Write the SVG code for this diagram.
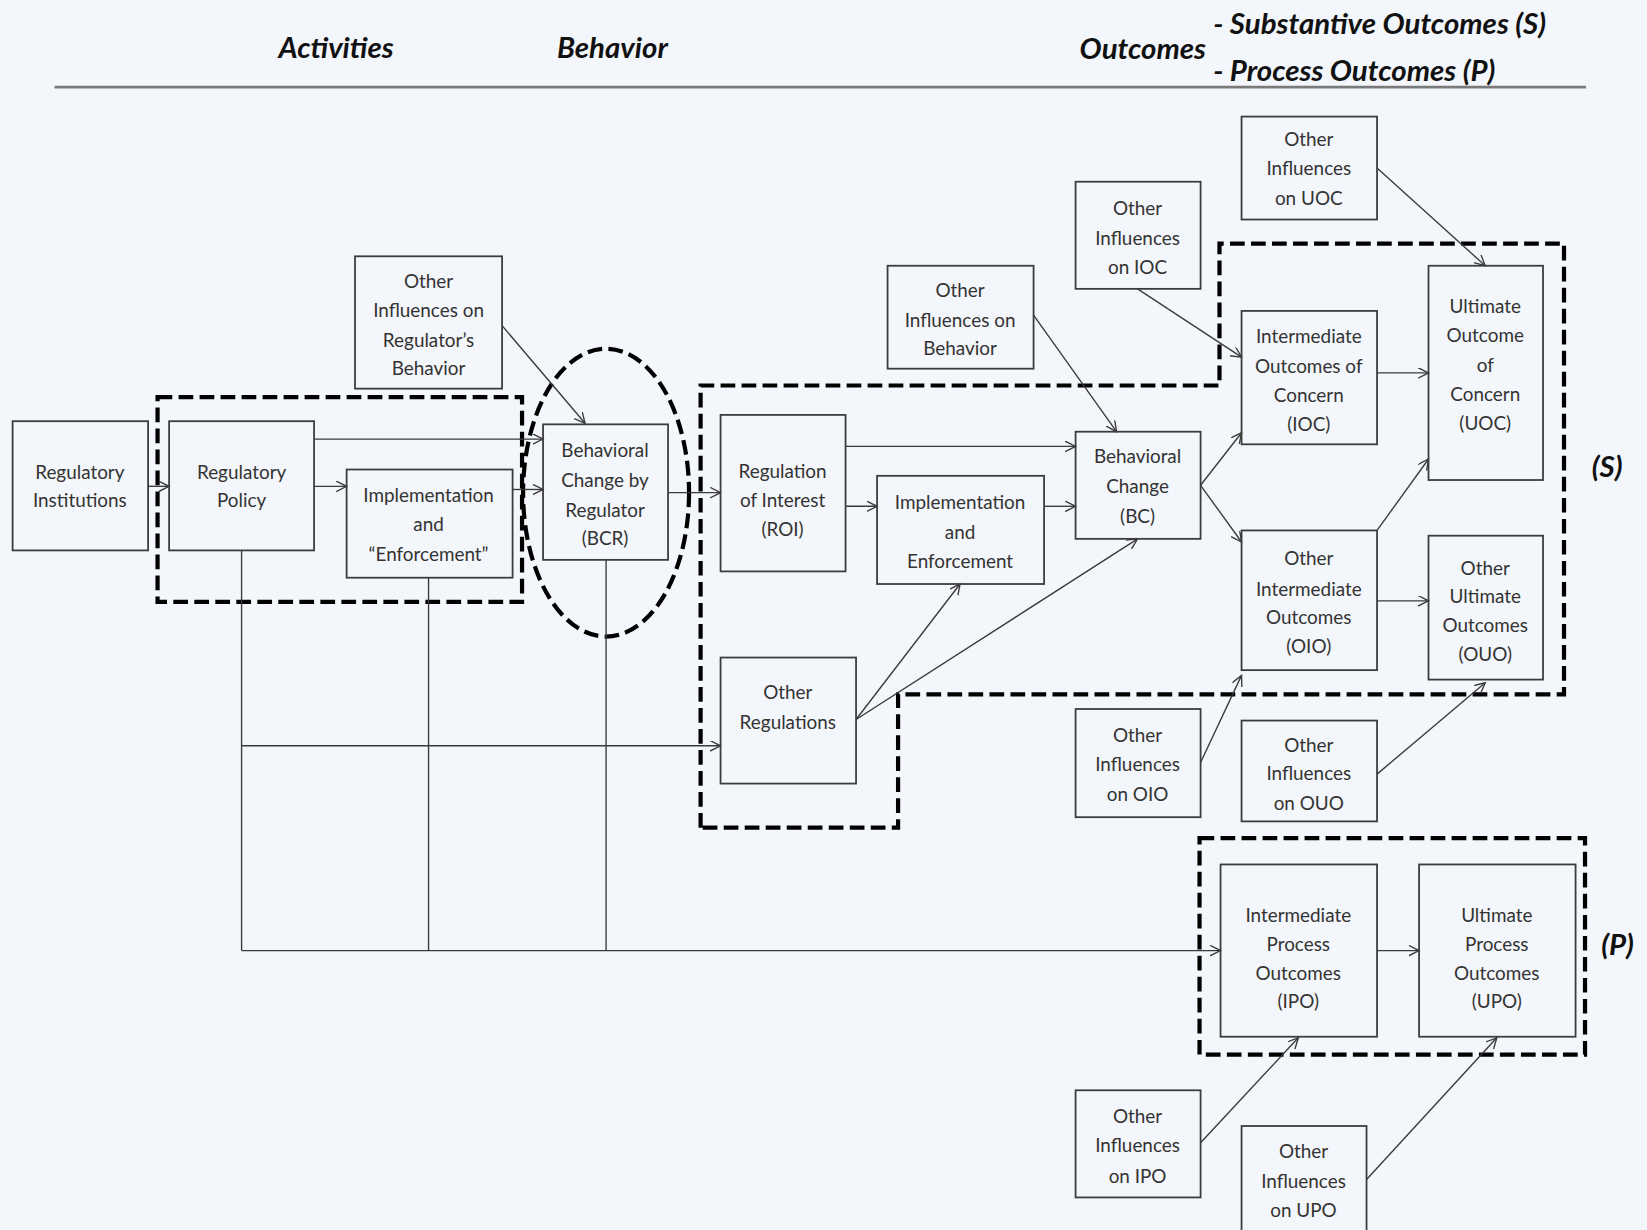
<svg xmlns="http://www.w3.org/2000/svg" width="1647" height="1230" viewBox="0 0 1647 1230">
<style>
.bx{fill:none;stroke:#3c3c3c;stroke-width:1.7}
.t{font-family:Lato,"Open Sans","Liberation Sans",sans-serif;font-size:18px;fill:#333;text-anchor:middle}
.h{font-family:Lato,"Open Sans","Liberation Sans",sans-serif;font-size:28px;font-weight:bold;font-style:italic;fill:#111}
.c{fill:none;stroke:#3a3a3a;stroke-width:1.3}
.ca{fill:none;stroke:#3a3a3a;stroke-width:1.3;marker-end:url(#ah)}
.d{fill:none;stroke:#000;stroke-width:4;stroke-dasharray:14 6}
</style>
<defs>
<marker id="ah" markerUnits="userSpaceOnUse" markerWidth="12" markerHeight="12" refX="10" refY="5" orient="auto">
<path d="M0,0 L10,5 L0,10" fill="none" stroke="#3a3a3a" stroke-width="1.3"/>
</marker>
</defs>
<rect width="1647" height="1230" fill="#f3f6fa"/>
<g transform="scale(1.05038)">
<g id="header">
<text class="h" x="320" y="55" text-anchor="middle">Activities</text>
<text class="h" x="583" y="55" text-anchor="middle">Behavior</text>
<text class="h" x="1088" y="56" text-anchor="middle">Outcomes</text>
<text class="h" x="1155" y="32" font-size="29">- Substantive Outcomes (S)</text>
<text class="h" x="1155" y="77" font-size="29">- Process Outcomes (P)</text>
<line x1="52" y1="83" x2="1510" y2="83" stroke="#7a7a7a" stroke-width="2.5"/>
<text class="h" x="1530" y="454" text-anchor="middle" font-size="30">(S)</text>
<text class="h" x="1540" y="909" text-anchor="middle" font-size="30">(P)</text>
</g>
<g id="groups">
<rect class="d" x="150" y="378" width="347" height="195"/>
<ellipse class="d" cx="577" cy="469" rx="79" ry="137"/>
<path class="d" d="M667,788 L667,367 L1161,367 L1161,232 L1489,232 L1489,661 L855,661 L855,788 Z"/>
<rect class="d" x="1142" y="798" width="367" height="206"/>
</g>
<g id="connectors">
<line class="ca" x1="141" y1="463" x2="161" y2="463"/>
<line class="ca" x1="299" y1="418" x2="517" y2="418"/>
<line class="ca" x1="299" y1="463" x2="330" y2="463"/>
<line class="ca" x1="488" y1="466" x2="517" y2="466"/>
<line class="ca" x1="478" y1="310" x2="557" y2="403"/>
<line class="ca" x1="636" y1="469" x2="686" y2="469"/>
<line class="ca" x1="805" y1="425" x2="1024" y2="425"/>
<line class="ca" x1="805" y1="482" x2="835" y2="482"/>
<line class="ca" x1="994" y1="482" x2="1024" y2="482"/>
<line class="ca" x1="815" y1="685" x2="914" y2="556"/>
<line class="ca" x1="815" y1="685" x2="1083" y2="513"/>
<line class="ca" x1="984" y1="300" x2="1063" y2="411"/>
<line class="ca" x1="1083" y1="275" x2="1182" y2="340"/>
<line class="ca" x1="1311" y1="160" x2="1414" y2="253"/>
<line class="ca" x1="1311" y1="355" x2="1360" y2="355"/>
<line class="ca" x1="1143" y1="462" x2="1182" y2="412"/>
<line class="ca" x1="1143" y1="462" x2="1182" y2="516"/>
<line class="ca" x1="1311" y1="505" x2="1360" y2="437"/>
<line class="ca" x1="1311" y1="572" x2="1360" y2="572"/>
<line class="ca" x1="1143" y1="726" x2="1182" y2="643"/>
<line class="ca" x1="1311" y1="737" x2="1414" y2="650"/>
<line class="ca" x1="1311" y1="905" x2="1351" y2="905"/>
<line class="ca" x1="1143" y1="1088" x2="1236" y2="988"/>
<line class="ca" x1="1301" y1="1123" x2="1425" y2="988"/>
<line class="c" x1="230" y1="524" x2="230" y2="905"/>
<line class="c" x1="408" y1="550" x2="408" y2="905"/>
<line class="c" x1="577" y1="533" x2="577" y2="905"/>
<line class="ca" x1="230" y1="905" x2="1162" y2="905"/>
<line class="ca" x1="230" y1="710" x2="686" y2="710"/>
</g>
<g id="n-reginst"><rect class="bx" x="12" y="401" width="129" height="123"/><text class="t"><tspan x="76" y="456">Regulatory</tspan><tspan x="76" y="483">Institutions</tspan></text></g>
<g id="n-regpolicy"><rect class="bx" x="161" y="401" width="138" height="123"/><text class="t"><tspan x="230" y="456">Regulatory</tspan><tspan x="230" y="483">Policy</tspan></text></g>
<g id="n-impl1"><rect class="bx" x="330" y="447" width="158" height="103"/><text class="t"><tspan x="408" y="478">Implementation</tspan><tspan x="408" y="506">and</tspan><tspan x="408" y="534">“Enforcement”</tspan></text></g>
<g id="n-oireg"><rect class="bx" x="338" y="244" width="140" height="126"/><text class="t"><tspan x="408" y="274">Other</tspan><tspan x="408" y="302">Influences on</tspan><tspan x="408" y="330">Regulator’s</tspan><tspan x="408" y="357">Behavior</tspan></text></g>
<g id="n-bcr"><rect class="bx" x="517" y="404" width="119" height="129"/><text class="t"><tspan x="576" y="435">Behavioral</tspan><tspan x="576" y="464">Change by</tspan><tspan x="576" y="492">Regulator</tspan><tspan x="576" y="519">(BCR)</tspan></text></g>
<g id="n-roi"><rect class="bx" x="686" y="395" width="119" height="149"/><text class="t"><tspan x="745" y="455">Regulation</tspan><tspan x="745" y="483">of Interest</tspan><tspan x="745" y="510">(ROI)</tspan></text></g>
<g id="n-impl2"><rect class="bx" x="835" y="453" width="159" height="103"/><text class="t"><tspan x="914" y="485">Implementation</tspan><tspan x="914" y="513">and</tspan><tspan x="914" y="541">Enforcement</tspan></text></g>
<g id="n-otherregs"><rect class="bx" x="686" y="626" width="129" height="120"/><text class="t"><tspan x="750" y="665">Other</tspan><tspan x="750" y="694">Regulations</tspan></text></g>
<g id="n-oibeh"><rect class="bx" x="845" y="253" width="139" height="98"/><text class="t"><tspan x="914" y="283">Other</tspan><tspan x="914" y="311">Influences on</tspan><tspan x="914" y="338">Behavior</tspan></text></g>
<g id="n-bc"><rect class="bx" x="1024" y="411" width="119" height="102"/><text class="t"><tspan x="1083" y="441">Behavioral</tspan><tspan x="1083" y="469">Change</tspan><tspan x="1083" y="498">(BC)</tspan></text></g>
<g id="n-oiioc"><rect class="bx" x="1024" y="173" width="119" height="102"/><text class="t"><tspan x="1083" y="205">Other</tspan><tspan x="1083" y="233">Influences</tspan><tspan x="1083" y="261">on IOC</tspan></text></g>
<g id="n-oiuoc"><rect class="bx" x="1182" y="111" width="129" height="98"/><text class="t"><tspan x="1246" y="139">Other</tspan><tspan x="1246" y="167">Influences</tspan><tspan x="1246" y="195">on UOC</tspan></text></g>
<g id="n-ioc"><rect class="bx" x="1182" y="296" width="129" height="127"/><text class="t"><tspan x="1246" y="327">Intermediate</tspan><tspan x="1246" y="355">Outcomes of</tspan><tspan x="1246" y="383">Concern</tspan><tspan x="1246" y="410">(IOC)</tspan></text></g>
<g id="n-uoc"><rect class="bx" x="1360" y="253" width="109" height="204"/><text class="t"><tspan x="1414" y="298">Ultimate</tspan><tspan x="1414" y="326">Outcome</tspan><tspan x="1414" y="354">of</tspan><tspan x="1414" y="382">Concern</tspan><tspan x="1414" y="409">(UOC)</tspan></text></g>
<g id="n-oio"><rect class="bx" x="1182" y="505" width="129" height="133"/><text class="t"><tspan x="1246" y="538">Other</tspan><tspan x="1246" y="567">Intermediate</tspan><tspan x="1246" y="594">Outcomes</tspan><tspan x="1246" y="622">(OIO)</tspan></text></g>
<g id="n-ouo"><rect class="bx" x="1360" y="510" width="109" height="137"/><text class="t"><tspan x="1414" y="547">Other</tspan><tspan x="1414" y="574">Ultimate</tspan><tspan x="1414" y="602">Outcomes</tspan><tspan x="1414" y="629">(OUO)</tspan></text></g>
<g id="n-oioio"><rect class="bx" x="1024" y="675" width="119" height="103"/><text class="t"><tspan x="1083" y="706">Other</tspan><tspan x="1083" y="734">Influences</tspan><tspan x="1083" y="763">on OIO</tspan></text></g>
<g id="n-oiouo"><rect class="bx" x="1182" y="686" width="129" height="96"/><text class="t"><tspan x="1246" y="716">Other</tspan><tspan x="1246" y="743">Influences</tspan><tspan x="1246" y="771">on OUO</tspan></text></g>
<g id="n-ipo"><rect class="bx" x="1162" y="823" width="149" height="164"/><text class="t"><tspan x="1236" y="878">Intermediate</tspan><tspan x="1236" y="905">Process</tspan><tspan x="1236" y="933">Outcomes</tspan><tspan x="1236" y="960">(IPO)</tspan></text></g>
<g id="n-upo"><rect class="bx" x="1351" y="823" width="149" height="164"/><text class="t"><tspan x="1425" y="878">Ultimate</tspan><tspan x="1425" y="905">Process</tspan><tspan x="1425" y="933">Outcomes</tspan><tspan x="1425" y="960">(UPO)</tspan></text></g>
<g id="n-oiipo"><rect class="bx" x="1024" y="1038" width="119" height="102"/><text class="t"><tspan x="1083" y="1069">Other</tspan><tspan x="1083" y="1097">Influences</tspan><tspan x="1083" y="1126">on IPO</tspan></text></g>
<g id="n-oiupo"><rect class="bx" x="1182" y="1072" width="119" height="110"/><text class="t"><tspan x="1241" y="1102">Other</tspan><tspan x="1241" y="1131">Influences</tspan><tspan x="1241" y="1159">on UPO</tspan></text></g>
</g>
</svg>
